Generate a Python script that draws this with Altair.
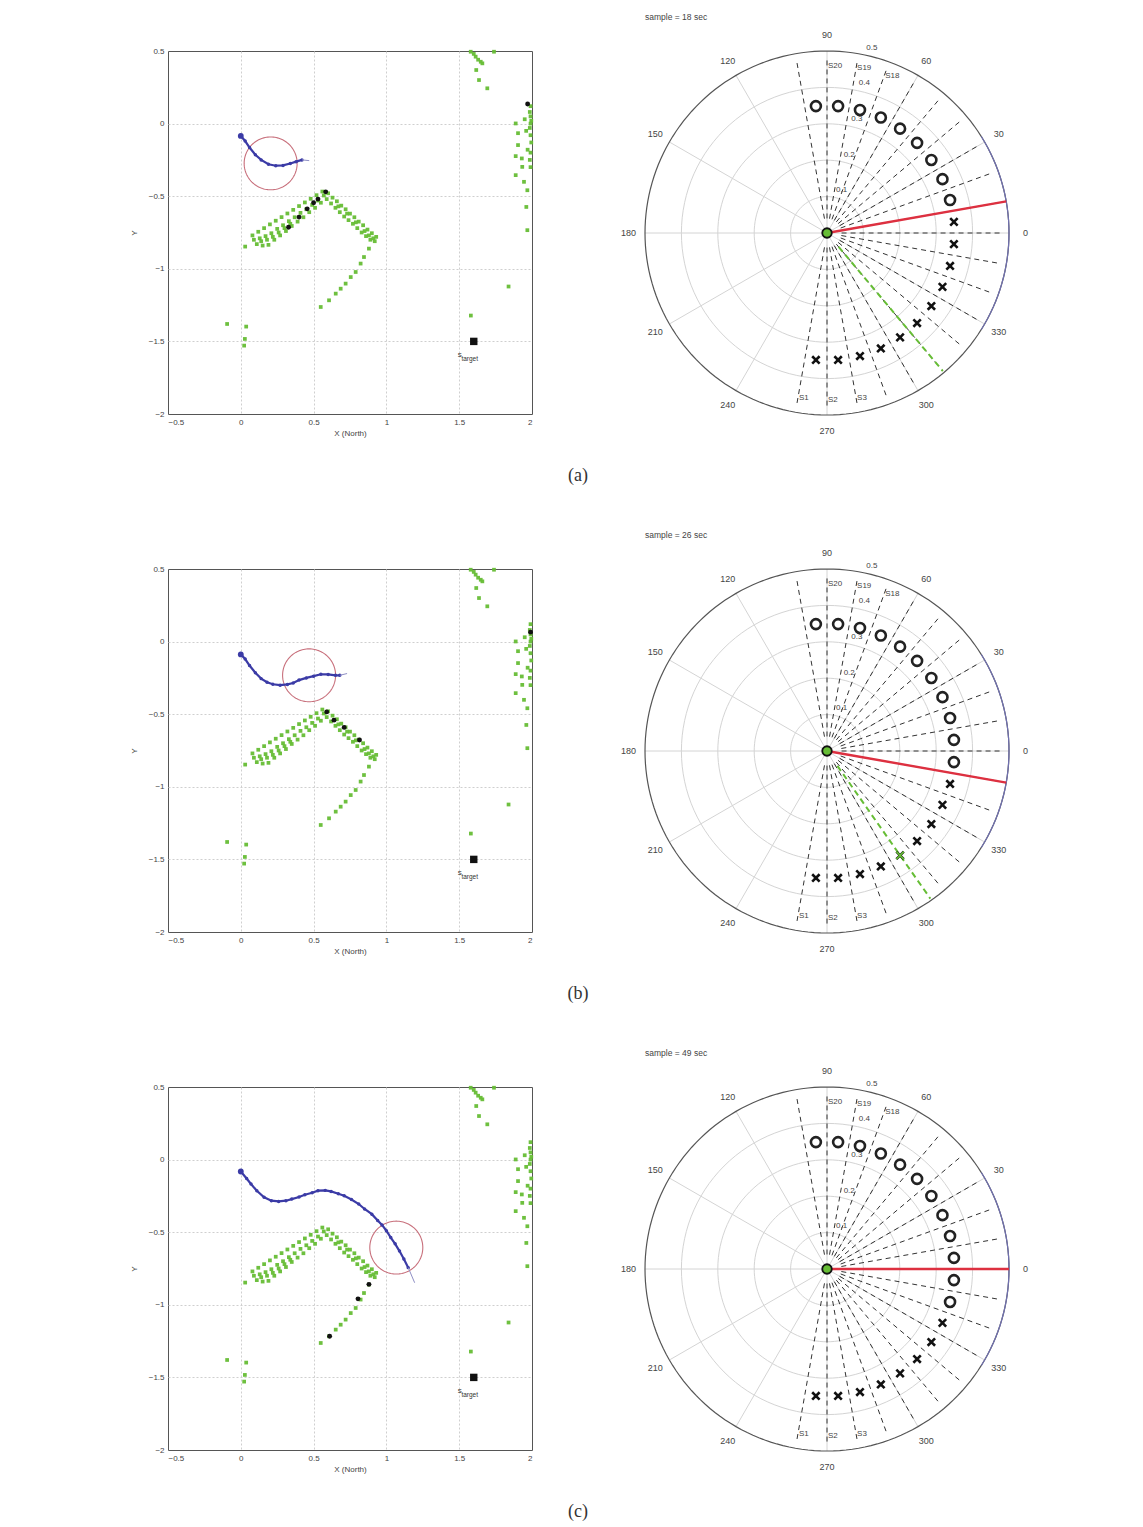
import altair as alt
import numpy as np
import pandas as pd

FONT = "Liberation Sans"

# ---------------- data ----------------
samples = ["sample = 18 sec", "sample = 26 sec", "sample = 49 sec"]
captions = ["(a)", "(b)", "(c)"]
x_ticks = [-0.5, 0, 0.5, 1, 1.5, 2]
y_ticks = [-2, -1.5, -1, -0.5, 0, 0.5]

green_x = [0.03, 0.08, 0.12, 0.16, 0.20, 0.24, 0.28, 0.32, 0.36, 0.40, 0.44, 0.48, 0.52, 0.56,
           0.13, 0.17, 0.21, 0.25, 0.29, 0.33, 0.37, 0.41, 0.45, 0.49, 0.53, 0.57,
           0.11, 0.15, 0.19, 0.23, 0.27, 0.31, 0.35, 0.39, 0.43, 0.47, 0.51, 0.55,
           0.09, 0.14, 0.18, 0.22, 0.26, 0.30, 0.34,
           0.60, 0.63, 0.66, 0.69, 0.72, 0.75, 0.78, 0.81, 0.84, 0.87, 0.90, 0.93,
           0.59, 0.62, 0.65, 0.68, 0.71, 0.74, 0.77, 0.80, 0.83, 0.86, 0.89, 0.92,
           0.67, 0.73, 0.79, 0.85, 0.88, 0.91,
           0.88, 0.846, 0.823, 0.789, 0.755, 0.72, 0.686, 0.652, 0.606, 0.549,
           -0.094, 0.037, 0.028, 0.023,
           1.839, 1.58,
           1.579, 1.60, 1.613, 1.63, 1.648, 1.659, 1.617, 1.636, 1.693, 1.739,
           1.99, 1.985, 1.99, 1.995, 1.99, 1.985, 1.99, 1.995, 1.97, 1.99, 1.985, 1.99,
           1.888, 1.904, 1.904, 1.888, 1.933, 1.888, 1.945, 1.968, 1.961, 1.968,
           1.95, 1.96, 1.93]
green_y = [-0.847, -0.77, -0.745, -0.72, -0.694, -0.669, -0.644, -0.619, -0.594, -0.568, -0.543, -0.518, -0.493, -0.468,
           -0.79, -0.775, -0.755, -0.725, -0.70, -0.672, -0.645, -0.615, -0.59, -0.56, -0.53, -0.495,
           -0.83, -0.84, -0.835, -0.80, -0.77, -0.74, -0.705, -0.675, -0.645, -0.61, -0.58, -0.545,
           -0.80, -0.81, -0.80, -0.78, -0.75, -0.72, -0.69,
           -0.48, -0.51, -0.535, -0.565, -0.59, -0.62, -0.645, -0.675, -0.70, -0.73, -0.755, -0.78,
           -0.52, -0.55, -0.58, -0.61, -0.64, -0.665, -0.69, -0.72, -0.75, -0.775, -0.80, -0.81,
           -0.57, -0.62, -0.68, -0.74, -0.77, -0.79,
           -0.861, -0.919, -0.964, -1.022, -1.057, -1.102, -1.137, -1.171, -1.217, -1.263,
           -1.38, -1.398, -1.483, -1.529,
           -1.122, -1.322,
           0.495, 0.48, 0.461, 0.44, 0.426, 0.415, 0.369, 0.30, 0.243, 0.495,
           0.12, 0.08, 0.05, 0.02, 0.0, -0.03, -0.08, -0.13, -0.18, -0.2, -0.25, -0.3,
           0.001, -0.066, -0.148, -0.224, -0.298, -0.355, -0.401, -0.459, -0.574, -0.734,
           0.03, -0.05, -0.24]

blue_x = [
    [0.0, 0.03, 0.06, 0.10, 0.14, 0.19, 0.24, 0.29, 0.34, 0.38, 0.42],
    [0.0, 0.03, 0.06, 0.10, 0.14, 0.18, 0.22, 0.27, 0.32, 0.36, 0.40, 0.45, 0.50, 0.55, 0.60, 0.65, 0.68],
    [0.0, 0.04, 0.07, 0.11, 0.16, 0.21, 0.26, 0.31, 0.35, 0.40, 0.44, 0.49, 0.53, 0.58, 0.62,
     0.67, 0.71, 0.76, 0.81, 0.85, 0.90, 0.94, 0.97, 1.00, 1.03, 1.06, 1.09, 1.12, 1.15],
]
blue_y = [
    [-0.085, -0.12, -0.165, -0.215, -0.25, -0.28, -0.29, -0.288, -0.275, -0.262, -0.25],
    [-0.088, -0.12, -0.165, -0.215, -0.255, -0.28, -0.294, -0.30, -0.295, -0.285, -0.265, -0.25,
     -0.238, -0.225, -0.226, -0.232, -0.232],
    [-0.082, -0.13, -0.168, -0.215, -0.26, -0.283, -0.288, -0.283, -0.272, -0.258, -0.242, -0.228,
     -0.214, -0.212, -0.219, -0.235, -0.249, -0.275, -0.306, -0.34, -0.376, -0.42, -0.45, -0.49,
     -0.537, -0.58, -0.63, -0.685, -0.744],
]
heading_x = [0.47, 0.73, 1.194]
heading_y = [-0.255, -0.22, -0.848]
robot_cx = [0.205, 0.469, 1.068]
robot_cy = [-0.274, -0.232, -0.606]
robot_r = 0.182

black_x = [[0.583, 0.53, 0.50, 0.456, 0.40, 0.328, 1.97],
           [0.59, 0.64, 0.71, 0.815, 1.99],
           [0.88, 0.805, 0.61]]
black_y = [[-0.47, -0.52, -0.545, -0.587, -0.644, -0.714, 0.135],
           [-0.484, -0.541, -0.591, -0.678, 0.065],
           [-0.859, -0.959, -1.217]]
target_x, target_y = 1.6, -1.5

sensor_angle = [-95, -85, -75, -65, -55, -45, -35, -25, -15, -5,
                5, 15, 25, 35, 45, 55, 65, 75, 85, 95]
sensor_name = ["S1", "S2", "S3", "S4", "S5", "S6", "S7", "S8", "S9", "S10",
               "S11", "S12", "S13", "S14", "S15", "S16", "S17", "S18", "S19", "S20"]
sensor_state = ["xxxxxxxxxxxooooooooo",
                "xxxxxxxxxooooooooooo",
                "xxxxxxxxoooooooooooo"]
marker_r = 0.35
shown_labels = ["S1", "S2", "S3", "S18", "S19", "S20"]
ray_angle = [-100, -90, -80, -70, -60, -50, -40, -30, -20, -10, 0,
             10, 20, 30, 40, 50, 60, 70, 80, 90, 100]
spoke_angle = [0, 30, 60, 90, 120, 150, 180, 210, 240, 270, 300, 330]
angle_text = ["0", "30", "60", "90", "120", "150", "180", "210", "240", "270", "300", "330"]
ring_r = [0.1, 0.2, 0.3, 0.4, 0.5]
ring_text = ["0.1", "0.2", "0.3", "0.4", "0.5"]
heading_angle = [10, -10, 0]
green_dir = [[-50], [-55], []]
green_hit = [[], [-55], []]

GREEN = "#66bd35"
BLUE = "#3b3ba6"


def circle_pts(cx, cy, r, a0=0, a1=360, step=3):
    a = np.deg2rad(np.arange(a0, a1 + step, step))
    return pd.DataFrame({"x": cx + r * np.cos(a), "y": cy + r * np.sin(a), "k": np.arange(len(a))})


def polar_xy(angles, radii, extra=None):
    t = np.deg2rad(np.array(angles, dtype=float))
    r = np.array(radii, dtype=float)
    df = pd.DataFrame({"x": r * np.cos(t), "y": r * np.sin(t)})
    if extra:
        for k, v in extra.items():
            df[k] = v
    return df


# ---------------- left (cartesian) panel ----------------
X_EDGE = {"condition": {"test": "datum.value == -0.5 || datum.value == 2", "value": 0}, "value": 1}
Y_EDGE = {"condition": {"test": "datum.value == -2 || datum.value == 0.5", "value": 0}, "value": 1}


def LX():
    return alt.X("x:Q", scale=alt.Scale(domain=[-0.5, 2], nice=False, zero=False),
                 axis=alt.Axis(values=x_ticks, title="X (North)", grid=True, gridColor="#cfcfcf",
                               gridDash=[2, 2], gridOpacity=X_EDGE, ticks=False, domain=False,
                               labelFontSize=8, titleFontSize=8, labelColor="#444", titleColor="#444",
                               labelFont=FONT, titleFont=FONT, labelPadding=4, titlePadding=3,
                               titleFontWeight="normal", format="~g"))


def LY():
    return alt.Y("y:Q", scale=alt.Scale(domain=[-2, 0.5], nice=False, zero=False),
                 axis=alt.Axis(values=y_ticks, title="Y", grid=True, gridColor="#cfcfcf",
                               gridDash=[2, 2], gridOpacity=Y_EDGE, ticks=False, domain=False,
                               labelFontSize=8, titleFontSize=8, labelColor="#444", titleColor="#444",
                               labelFont=FONT, titleFont=FONT, labelPadding=4, titlePadding=10,
                               titleFontWeight="normal", format="~g"))


def left_panel(i):
    g = pd.DataFrame({"x": green_x, "y": green_y})
    greens = alt.Chart(g).mark_square(size=14, color=GREEN, opacity=0.95).encode(x=LX(), y=LY())
    circ = alt.Chart(circle_pts(robot_cx[i], robot_cy[i], robot_r)).mark_line(
        color="#c8707c", strokeWidth=1.1).encode(x=LX(), y=LY(), order="k:Q")
    b = pd.DataFrame({"x": blue_x[i], "y": blue_y[i], "k": range(len(blue_x[i]))})
    bline = alt.Chart(b).mark_line(color=BLUE, strokeWidth=2.2).encode(x=LX(), y=LY(), order="k:Q")
    bpts = alt.Chart(b).mark_circle(color=BLUE, size=12, opacity=1).encode(x=LX(), y=LY())
    bstart = alt.Chart(b.iloc[:1]).mark_circle(color=BLUE, size=34, opacity=1).encode(x=LX(), y=LY())
    h = pd.DataFrame({"x": [blue_x[i][-1]], "y": [blue_y[i][-1]],
                      "x2": [heading_x[i]], "y2": [heading_y[i]]})
    head = alt.Chart(h).mark_rule(color="#8e8ec4", strokeWidth=1).encode(
        x=LX(), y=LY(), x2="x2:Q", y2="y2:Q")
    bk = pd.DataFrame({"x": black_x[i], "y": black_y[i]})
    blacks = alt.Chart(bk).mark_circle(color="#111", size=24, opacity=1).encode(x=LX(), y=LY())
    t = pd.DataFrame({"x": [target_x], "y": [target_y]})
    targ = alt.Chart(t).mark_square(color="#111", size=55, opacity=1).encode(x=LX(), y=LY())
    ts = pd.DataFrame({"x": [1.49], "y": [-1.595], "t": ["s"]})
    tsub = pd.DataFrame({"x": [1.515], "y": [-1.62], "t": ["target"]})
    lab1 = alt.Chart(ts).mark_text(align="left", baseline="middle", fontSize=8, font=FONT,
                                   color="#333").encode(x=LX(), y=LY(), text="t:N")
    lab2 = alt.Chart(tsub).mark_text(align="left", baseline="middle", fontSize=6.5, font=FONT,
                                     color="#333").encode(x=LX(), y=LY(), text="t:N")
    cap = alt.Chart(pd.DataFrame({"t": [captions[i]]})).mark_text(
        fontSize=18, font="Liberation Serif", color="#333", baseline="middle").encode(
        x=alt.value(410), y=alt.value(425), text="t:N")
    return alt.layer(greens, circ, bline, bpts, bstart, head, blacks, targ, lab1, lab2, cap).properties(
        width=364, height=363, view=alt.ViewBackground(stroke="#555", strokeWidth=1))


# ---------------- right (polar) panel ----------------
def PX(f="x"):
    return alt.X(f + ":Q", scale=alt.Scale(domain=[-0.5, 0.5], nice=False, zero=False), axis=None)


def PY(f="y"):
    return alt.Y(f + ":Q", scale=alt.Scale(domain=[-0.5, 0.5], nice=False, zero=False), axis=None)


def polar_panel(i):
    rings = pd.concat([circle_pts(0, 0, r).assign(r=r) for r in ring_r[:-1]])
    lrings = alt.Chart(rings).mark_line(color="#d4d4d4", strokeWidth=1).encode(
        x=PX(), y=PY(), detail="r:N", order="k:Q")
    sp = polar_xy(spoke_angle, [0.5] * len(spoke_angle))
    sp["x0"] = 0.0
    sp["y0"] = 0.0
    spokes = alt.Chart(sp).mark_rule(color="#d4d4d4", strokeWidth=1).encode(
        x=PX("x0"), y=PY("y0"), x2="x:Q", y2="y:Q")
    outer = alt.Chart(circle_pts(0, 0, 0.5, 0, 360, 2)).mark_line(
        color="#555", strokeWidth=1.2).encode(x=PX(), y=PY(), order="k:Q")
    barc = alt.Chart(circle_pts(0, 0, 0.5, -32, 32, 2)).mark_line(
        color="#7070b0", strokeWidth=1.2).encode(x=PX(), y=PY(), order="k:Q")
    r0 = polar_xy(ray_angle, [0.04] * len(ray_angle))
    r1 = polar_xy(ray_angle, [0.48] * len(ray_angle))
    rays_df = pd.DataFrame({"x": r0.x, "y": r0.y, "x2": r1.x, "y2": r1.y})
    rays = alt.Chart(rays_df).mark_rule(color="#333", strokeWidth=1, strokeDash=[5, 4]).encode(
        x=PX(), y=PY(), x2="x2:Q", y2="y2:Q")
    layers = [lrings, spokes, outer, barc, rays]
    if green_dir[i]:
        g0 = polar_xy(green_dir[i], [0.05])
        g1 = polar_xy(green_dir[i], [0.495])
        gdf = pd.DataFrame({"x": g0.x, "y": g0.y, "x2": g1.x, "y2": g1.y})
        layers.append(alt.Chart(gdf).mark_rule(color=GREEN, strokeWidth=2, strokeDash=[6, 4]).encode(
            x=PX(), y=PY(), x2="x2:Q", y2="y2:Q"))
    hd = polar_xy([heading_angle[i]], [0.5])
    hdf = pd.DataFrame({"x": [0.0], "y": [0.0], "x2": hd.x, "y2": hd.y})
    layers.append(alt.Chart(hdf).mark_rule(color="#dd3040", strokeWidth=2.4).encode(
        x=PX(), y=PY(), x2="x2:Q", y2="y2:Q"))
    st = list(sensor_state[i])
    mk = polar_xy(sensor_angle, [marker_r] * 20, {"s": st})
    layers.append(alt.Chart(mk[mk.s == "o"]).mark_point(
        shape="circle", filled=False, color="#222", strokeWidth=2.6, size=100, opacity=1).encode(x=PX(), y=PY()))
    layers.append(alt.Chart(mk[mk.s == "x"]).mark_point(
        shape="M -1 -1 L 1 1 M -1 1 L 1 -1", filled=False, color="#111", strokeWidth=2.6,
        size=55, opacity=1).encode(x=PX(), y=PY()))
    if green_hit[i]:
        gh = polar_xy(green_hit[i], [marker_r])
        layers.append(alt.Chart(gh).mark_point(
            shape="M -1 -1 L 1 1 M -1 1 L 1 -1", filled=False, color=GREEN, strokeWidth=1.6,
            size=55, opacity=1).encode(x=PX(), y=PY()))
    c = pd.DataFrame({"x": [0.0], "y": [0.0]})
    layers.append(alt.Chart(c).mark_point(shape="circle", filled=True, color=GREEN, stroke="#111",
                                          strokeWidth=1.8, size=90, opacity=1).encode(x=PX(), y=PY()))
    al = polar_xy(spoke_angle, [0.545] * 12, {"t": angle_text})
    layers.append(alt.Chart(al).mark_text(fontSize=9, font=FONT, color="#444", align="center",
                                          baseline="middle").encode(x=PX(), y=PY(), text="t:N"))
    rl = polar_xy([78] * 5, [r + 0.02 for r in ring_r], {"t": ring_text})
    layers.append(alt.Chart(rl).mark_text(fontSize=8, font=FONT, color="#444", align="left",
                                          baseline="middle").encode(x=PX(), y=PY(), text="t:N"))
    sl_ang = [a - 5 for a, n in zip(sensor_angle, sensor_name) if n in shown_labels]
    sl_txt = [n for n in sensor_name if n in shown_labels]
    sl = polar_xy(sl_ang, [0.46] * len(sl_ang), {"t": sl_txt})
    layers.append(alt.Chart(sl).mark_text(fontSize=8, font=FONT, color="#444", align="left",
                                          baseline="middle", dx=1).encode(x=PX(), y=PY(), text="t:N"))
    tt = pd.DataFrame({"t": [samples[i]]})
    layers.append(alt.Chart(tt).mark_text(fontSize=8.5, font=FONT, color="#444", align="left",
                                          baseline="middle").encode(
        x=alt.value(0), y=alt.value(-34), text="t:N"))
    return alt.layer(*layers).properties(width=364, height=364)


panels = []
for i in range(3):
    panels.append(left_panel(i))
    panels.append(polar_panel(i))

chart = alt.concat(*panels, columns=2, spacing={"row": 154, "column": 113}, bounds="flush").properties(
    padding={"left": 121, "top": 4, "right": 5, "bottom": 5}
).configure_view(stroke="transparent")

chart.save("out.html", embed_options={"renderer": "svg", "actions": False})
